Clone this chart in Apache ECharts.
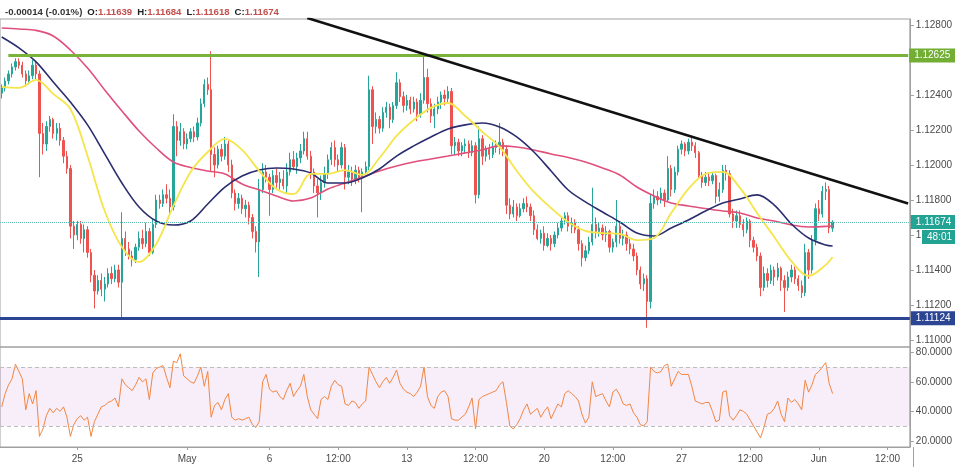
<!DOCTYPE html>
<html><head><meta charset="utf-8">
<script src="https://cdn.jsdelivr.net/npm/echarts@6/dist/echarts.min.js"></script>
<style>html,body{margin:0;padding:0;background:#fff}#c{width:955px;height:467px}</style>
</head><body><div id="c"></div><script>
// trading days shown (forex, weekdays only) and 3-hour bar slots
const days = ['Apr 22','Apr 23','Apr 24','Apr 25','Apr 26','Apr 29','Apr 30','May 1','May 2','May 3','May 6','May 7','May 8','May 9','May 10','May 13','May 14','May 15','May 16','May 17','May 20','May 21','May 22','May 23','May 24','May 27','May 28','May 29','May 30','May 31','Jun 3','Jun 4','Jun 5','Jun 6'];
const barHours = ['00:00','03:00','06:00','09:00','12:00','15:00','18:00','21:00'];
const firstBar = 'Apr 22 06:00';
const slotCount = 265;
const tickLabels = {'Apr 25 00:00':'25','May 1 00:00':'May','May 6 00:00':'6','May 8 12:00':'12:00','May 13 00:00':'13','May 15 12:00':'12:00','May 20 00:00':'20','May 22 12:00':'12:00','May 27 00:00':'27','May 29 12:00':'12:00','Jun 3 00:00':'Jun','Jun 5 12:00':'12:00'};
const priceTicks = [1.110,1.112,1.114,1.116,1.118,1.120,1.122,1.124,1.126,1.128];
const priceLabels = [1.110,1.112,1.114,1.116,1.118,1.120,1.122,1.124,1.128];
const rsiTicks = [20,40,60,80];

// OHLC per bar: [open, high, low, close]
const ohlc = [
[1.1241,1.1246,1.1238,1.1244],[1.1244,1.1250,1.1242,1.1248],[1.1248,1.1254,1.1246,1.1252],[1.1252,1.1258,1.1250,1.1256],[1.1256,1.1261,1.1254,1.1259],
[1.1259,1.1261,1.1255,1.1257],[1.1257,1.1259,1.1250,1.1252],[1.1252,1.1254,1.1245,1.1248],[1.1248,1.1254,1.1246,1.1251],[1.1251,1.1260,1.1249,1.1257],
[1.1257,1.1259,1.1249,1.1252],[1.1252,1.1254,1.1193,1.1218],[1.1218,1.1224,1.1206,1.1212],[1.1212,1.1225,1.1208,1.1222],[1.1222,1.1228,1.1219,1.1226],
[1.1226,1.1227,1.1215,1.1218],[1.1218,1.1224,1.1214,1.1221],[1.1221,1.1224,1.1211,1.1214],[1.1214,1.1216,1.1201,1.1205],[1.1205,1.1208,1.1195,1.1198],
[1.1198,1.1200,1.1158,1.1165],[1.1165,1.1168,1.1152,1.1160],[1.1160,1.1168,1.1157,1.1166],[1.1166,1.1168,1.1155,1.1158],[1.1158,1.1166,1.1150,1.1163],
[1.1163,1.1165,1.1147,1.1150],[1.1150,1.1152,1.1133,1.1137],[1.1137,1.1140,1.1118,1.1128],[1.1128,1.1137,1.1126,1.1134],[1.1134,1.1138,1.1125,1.1129],
[1.1129,1.1136,1.1122,1.1132],[1.1132,1.1141,1.1130,1.1138],[1.1138,1.1142,1.1132,1.1135],[1.1135,1.1143,1.1133,1.1140],[1.1140,1.1143,1.1130,1.1133],
[1.1133,1.1173,1.1113,1.1158],[1.1158,1.1162,1.1148,1.1152],[1.1152,1.1156,1.1146,1.1148],[1.1148,1.1151,1.1142,1.1146],[1.1146,1.1155,1.1144,1.1153],
[1.1153,1.1162,1.1151,1.1158],[1.1158,1.1163,1.1152,1.1155],[1.1155,1.1167,1.1153,1.1162],[1.1162,1.1164,1.1148,1.1150],[1.1150,1.1169,1.1149,1.1166],
[1.1166,1.1183,1.1164,1.1180],[1.1180,1.1183,1.1175,1.1178],[1.1178,1.1186,1.1176,1.1183],[1.1183,1.1189,1.1178,1.1181],[1.1181,1.1186,1.1171,1.1176],
[1.1176,1.1229,1.1174,1.1222],[1.1222,1.1225,1.1205,1.1214],[1.1214,1.1224,1.1211,1.1219],[1.1219,1.1221,1.1209,1.1212],[1.1212,1.1218,1.1209,1.1215],
[1.1215,1.1221,1.1213,1.1219],[1.1219,1.1222,1.1213,1.1216],[1.1216,1.1227,1.1214,1.1224],[1.1224,1.1238,1.1222,1.1235],[1.1235,1.1249,1.1233,1.1246],
[1.1246,1.1250,1.1240,1.1243],[1.1243,1.1265,1.1196,1.1206],[1.1206,1.1210,1.1193,1.1200],[1.1200,1.1211,1.1198,1.1209],[1.1209,1.1212,1.1202,1.1205],
[1.1205,1.1216,1.1203,1.1212],[1.1212,1.1214,1.1196,1.1200],[1.1200,1.1203,1.1181,1.1184],[1.1184,1.1186,1.1174,1.1178],[1.1178,1.1184,1.1175,1.1181],
[1.1181,1.1183,1.1172,1.1175],[1.1175,1.1180,1.1170,1.1177],[1.1177,1.1179,1.1166,1.1170],[1.1170,1.1172,1.1158,1.1162],[1.1162,1.1165,1.1150,1.1156],
[1.1156,1.1192,1.1136,1.1186],[1.1186,1.1201,1.1184,1.1196],[1.1196,1.1200,1.1190,1.1193],[1.1193,1.1195,1.1171,1.1186],[1.1186,1.1197,1.1184,1.1194],
[1.1194,1.1198,1.1187,1.1190],[1.1190,1.1196,1.1186,1.1192],[1.1192,1.1197,1.1186,1.1188],[1.1188,1.1201,1.1184,1.1196],[1.1196,1.1207,1.1194,1.1203],
[1.1203,1.1208,1.1197,1.1199],[1.1199,1.1207,1.1195,1.1204],[1.1204,1.1212,1.1201,1.1208],[1.1208,1.1219,1.1206,1.1215],[1.1215,1.1219,1.1203,1.1205],
[1.1205,1.1208,1.1192,1.1196],[1.1196,1.1198,1.1184,1.1188],[1.1188,1.1192,1.1170,1.1184],[1.1184,1.1194,1.1180,1.1190],[1.1190,1.1199,1.1187,1.1195],
[1.1195,1.1206,1.1192,1.1203],[1.1203,1.1213,1.1200,1.1210],[1.1210,1.1214,1.1199,1.1203],[1.1203,1.1206,1.1196,1.1200],[1.1200,1.1213,1.1198,1.1210],
[1.1210,1.1212,1.1186,1.1193],[1.1193,1.1200,1.1189,1.1196],[1.1196,1.1199,1.1188,1.1192],[1.1192,1.1200,1.1189,1.1197],[1.1197,1.1199,1.1190,1.1193],
[1.1193,1.1198,1.1173,1.1196],[1.1196,1.1202,1.1194,1.1199],[1.1199,1.1251,1.1197,1.1243],[1.1243,1.1245,1.1212,1.1222],[1.1222,1.1230,1.1218,1.1226],
[1.1226,1.1228,1.1218,1.1221],[1.1221,1.1233,1.1219,1.1230],[1.1230,1.1236,1.1227,1.1233],[1.1233,1.1235,1.1221,1.1226],[1.1226,1.1236,1.1224,1.1234],
[1.1234,1.1253,1.1232,1.1247],[1.1247,1.1249,1.1236,1.1239],[1.1239,1.1242,1.1230,1.1234],[1.1234,1.1240,1.1231,1.1237],[1.1237,1.1239,1.1229,1.1232],
[1.1232,1.1239,1.1230,1.1236],[1.1236,1.1238,1.1225,1.1229],[1.1229,1.1241,1.1227,1.1237],[1.1237,1.1262,1.1235,1.1250],[1.1250,1.1255,1.1230,1.1235],
[1.1235,1.1238,1.1224,1.1228],[1.1228,1.1235,1.1221,1.1232],[1.1232,1.1239,1.1229,1.1236],[1.1236,1.1242,1.1232,1.1240],[1.1240,1.1243,1.1234,1.1238],
[1.1238,1.1245,1.1235,1.1242],[1.1242,1.1244,1.1206,1.1211],[1.1211,1.1216,1.1206,1.1213],[1.1213,1.1215,1.1205,1.1208],[1.1208,1.1213,1.1205,1.1211],
[1.1211,1.1215,1.1207,1.1212],[1.1212,1.1214,1.1204,1.1207],[1.1207,1.1214,1.1205,1.1211],[1.1211,1.1213,1.1178,1.1183],[1.1183,1.1222,1.1181,1.1215],
[1.1215,1.1217,1.1200,1.1205],[1.1205,1.1211,1.1202,1.1209],[1.1209,1.1212,1.1203,1.1206],[1.1206,1.1213,1.1204,1.1210],[1.1210,1.1214,1.1207,1.1211],
[1.1211,1.1224,1.1206,1.1213],[1.1213,1.1215,1.1205,1.1209],[1.1209,1.1211,1.1172,1.1177],[1.1177,1.1181,1.1169,1.1172],[1.1172,1.1180,1.1170,1.1176],
[1.1176,1.1178,1.1168,1.1171],[1.1171,1.1178,1.1170,1.1175],[1.1175,1.1181,1.1173,1.1178],[1.1178,1.1182,1.1173,1.1176],[1.1176,1.1178,1.1168,1.1171],
[1.1171,1.1174,1.1160,1.1163],[1.1163,1.1166,1.1157,1.1158],[1.1158,1.1163,1.1155,1.1161],[1.1161,1.1165,1.1151,1.1154],[1.1154,1.1161,1.1153,1.1158],
[1.1158,1.1160,1.1151,1.1155],[1.1155,1.1162,1.1153,1.1160],[1.1160,1.1167,1.1158,1.1164],[1.1164,1.1170,1.1162,1.1168],[1.1168,1.1173,1.1166,1.1171],
[1.1171,1.1173,1.1162,1.1165],[1.1165,1.1170,1.1161,1.1167],[1.1167,1.1169,1.1161,1.1163],[1.1163,1.1165,1.1151,1.1155],[1.1155,1.1157,1.1142,1.1147],
[1.1147,1.1154,1.1145,1.1151],[1.1151,1.1159,1.1149,1.1156],[1.1156,1.1187,1.1154,1.1166],[1.1166,1.1170,1.1158,1.1162],[1.1162,1.1167,1.1159,1.1164],
[1.1164,1.1166,1.1157,1.1160],[1.1160,1.1165,1.1156,1.1162],[1.1162,1.1163,1.1150,1.1153],[1.1153,1.1158,1.1150,1.1156],[1.1156,1.1180,1.1153,1.1165],
[1.1165,1.1167,1.1155,1.1158],[1.1158,1.1163,1.1154,1.1160],[1.1160,1.1162,1.1151,1.1155],[1.1155,1.1158,1.1149,1.1152],[1.1152,1.1155,1.1145,1.1148],
[1.1148,1.1150,1.1137,1.1140],[1.1140,1.1142,1.1129,1.1132],[1.1132,1.1138,1.1128,1.1135],[1.1135,1.1137,1.1107,1.1122],[1.1122,1.1183,1.1118,1.1178],
[1.1178,1.1186,1.1175,1.1182],[1.1182,1.1185,1.1177,1.1180],[1.1180,1.1187,1.1178,1.1184],[1.1184,1.1186,1.1176,1.1180],[1.1180,1.1205,1.1179,1.1198],
[1.1198,1.1200,1.1182,1.1186],[1.1186,1.1199,1.1184,1.1196],[1.1196,1.1211,1.1194,1.1209],[1.1209,1.1214,1.1206,1.1212],[1.1212,1.1213,1.1205,1.1208],
[1.1208,1.1215,1.1206,1.1213],[1.1213,1.1216,1.1208,1.1211],[1.1211,1.1213,1.1204,1.1207],[1.1207,1.1208,1.1192,1.1194],[1.1194,1.1196,1.1187,1.1190],
[1.1190,1.1196,1.1188,1.1193],[1.1193,1.1195,1.1188,1.1191],[1.1191,1.1196,1.1189,1.1194],[1.1194,1.1195,1.1178,1.1182],[1.1182,1.1190,1.1179,1.1186],
[1.1186,1.1200,1.1184,1.1197],[1.1197,1.1200,1.1191,1.1195],[1.1195,1.1197,1.1170,1.1172],[1.1172,1.1175,1.1164,1.1168],[1.1168,1.1174,1.1164,1.1171],
[1.1171,1.1174,1.1164,1.1166],[1.1166,1.1169,1.1159,1.1163],[1.1163,1.1170,1.1161,1.1168],[1.1168,1.1169,1.1153,1.1157],[1.1157,1.1159,1.1150,1.1153],
[1.1153,1.1155,1.1145,1.1148],[1.1148,1.1150,1.1125,1.1130],[1.1130,1.1142,1.1128,1.1138],[1.1138,1.1141,1.1130,1.1134],[1.1134,1.1143,1.1132,1.1140],
[1.1140,1.1142,1.1131,1.1136],[1.1136,1.1144,1.1134,1.1141],[1.1141,1.1142,1.1128,1.1134],[1.1134,1.1137,1.1116,1.1130],[1.1130,1.1139,1.1128,1.1136],
[1.1136,1.1143,1.1133,1.1140],[1.1140,1.1142,1.1132,1.1135],[1.1135,1.1137,1.1128,1.1131],[1.1131,1.1134,1.1124,1.1127],[1.1127,1.1155,1.1125,1.1150],
[1.1150,1.1152,1.1135,1.1140],[1.1140,1.1160,1.1138,1.1157],[1.1157,1.1178,1.1154,1.1175],[1.1175,1.1180,1.1168,1.1172],[1.1172,1.1188,1.1170,1.1185],
[1.1185,1.1190,1.1180,1.1186],[1.1186,1.1188,1.1161,1.1164],[1.11639,1.11684,1.11618,1.11674]
];

// moving averages, sampled at these bar indices
const maIdx = [0,5,10,15,20,25,30,35,40,45,50,55,60,65,70,75,80,85,90,95,100,105,110,115,120,125,130,135,140,145,150,155,160,165,170,175,180,185,190,195,200,205,210,215,220,225,230,235,240,242];
const maSlow = [1.12783,1.12777,1.12769,1.12737,1.12657,1.12554,1.12429,1.12309,1.12194,1.12097,1.12017,1.11986,1.11966,1.11949,1.11891,1.11857,1.11823,1.11794,1.11811,1.11863,1.11897,1.11931,1.11966,1.11994,1.12017,1.12034,1.12051,1.12069,1.12086,1.12109,1.12103,1.12086,1.12063,1.12043,1.12017,1.11983,1.11943,1.11874,1.11823,1.11783,1.11766,1.11751,1.11737,1.11726,1.11697,1.11680,1.11657,1.11646,1.11649,1.11651];
const maMid = [1.12731,1.12669,1.12589,1.12474,1.12360,1.12229,1.12063,1.11897,1.11760,1.11680,1.11657,1.11680,1.11777,1.11874,1.11937,1.11971,1.11983,1.11977,1.11954,1.11897,1.11897,1.11926,1.11977,1.12051,1.12109,1.12160,1.12206,1.12229,1.12240,1.12217,1.12160,1.12074,1.11966,1.11857,1.11789,1.11731,1.11674,1.11611,1.11594,1.11640,1.11686,1.11737,1.11783,1.11806,1.11829,1.11771,1.11663,1.11583,1.11543,1.11537];
const maFast = [1.12446,1.12440,1.12486,1.12406,1.12320,1.12051,1.11737,1.11531,1.11446,1.11549,1.11766,1.11960,1.12074,1.12149,1.12086,1.11966,1.11863,1.11834,1.11949,1.11949,1.11971,1.11943,1.12040,1.12166,1.12257,1.12326,1.12354,1.12280,1.12189,1.12103,1.11966,1.11846,1.11754,1.11674,1.11623,1.11611,1.11606,1.11571,1.11583,1.11726,1.11863,1.11949,1.11960,1.11869,1.11726,1.11589,1.11451,1.11366,1.11429,1.11474];

// RSI per bar
const rsi = [
43,52,58,62,72,67,62,41,52,45, 54,23,28,37,42,39,42,40,43,36,
23,31,35,37,34,36,23,33,38,43, 44,46,47,49,43,62,58,56,54,58,
63,60,62,48,66,69,70,71,63,56, 74,73,79,64,62,60,59,64,70,57,
67,36,44,46,41,48,52,36,34,35, 34,35,36,31,29,33,60,65,55,53,
54,50,48,54,59,50,54,57,65,50, 41,38,35,48,50,48,57,61,58,57,
45,44,47,46,42,45,47,70,65,60, 56,60,63,59,63,68,59,55,53,52,
50,53,57,70,50,44,42,50,53,54, 50,35,34,34,36,38,43,49,28,48,
50,51,52,53,54,58,60,46,30,28, 31,35,41,45,38,40,42,36,40,43,
35,40,45,43,52,54,52,50,47,38, 32,36,60,50,51,52,47,43,53,55,
51,45,44,45,39,36,31,30,33,70, 67,66,67,71,72,57,62,67,65,65,
65,57,47,46,45,46,46,40,33,34, 53,54,37,34,37,41,40,38,34,30,
26,22,29,38,39,42,47,38,33,49, 46,48,45,41,61,53,58,65,67,70,
73,59,52
];

// drawn levels
const resistance = 1.12625;
const support = 1.11124;
const lastPrice = 1.11674;
const trendline = [[89, 1.1284], [264, 1.1178]];
const resistanceSpan = [2, 264];
const rsiBand = [30, 70];
const header = {change:'-0.00014 (-0.01%)', O:'1.11639', H:'1.11684', L:'1.11618', C:'1.11674'};
const countdown = '48:01';

// build categories
const categories = [];
days.forEach(d => barHours.forEach(h => categories.push(d + ' ' + h)));
const cats = categories.slice(categories.indexOf(firstBar)).slice(0, slotCount);

const chart = echarts.init(document.getElementById('c'));
const FONT = 'Liberation Sans, Arial, sans-serif';
const lbl = {color:'#4a4a4a', fontSize:10, fontFamily:FONT};
const boxLabel = (txt, bg) => ({show:true, position:'end', distance:1, formatter:txt, color:'#fff', backgroundColor:bg, padding:[2,5,2,5], fontSize:10, fontFamily:FONT});
const HF = 9.6;

chart.setOption({
  animation:false,
  backgroundColor:'#ffffff',
  title:{
    left:5, top:3, padding:0,
    text:`{a|${header.change}} {b|O:}{c|${header.O}} {b|H:}{c|${header.H}} {b|L:}{c|${header.L}} {b|C:}{c|${header.C}}`,
    textStyle:{rich:{
      a:{color:'#333', fontSize:HF, fontFamily:FONT},
      b:{color:'#222', fontSize:HF, fontWeight:'bold', fontFamily:FONT},
      c:{color:'#c2504e', fontSize:HF, fontFamily:FONT}
    }}
  },
  grid:[
    {left:-2, right:42, top:19, height:328, show:true, borderColor:'#a0a0a0', borderWidth:1, backgroundColor:'transparent'},
    {left:-2, right:42, top:347, height:100, show:true, borderColor:'#a0a0a0', borderWidth:1, backgroundColor:'transparent'}
  ],
  xAxis:[
    {type:'category', gridIndex:0, data:cats, boundaryGap:true, axisLine:{show:false}, axisTick:{show:false}, axisLabel:{show:false}, splitLine:{show:false}},
    {type:'category', gridIndex:1, data:cats, boundaryGap:true,
     axisLine:{show:true, lineStyle:{color:'#a0a0a0'}},
     axisTick:{show:true, alignWithLabel:true, length:3, interval:(i,v)=> v in tickLabels, lineStyle:{color:'#a0a0a0'}},
     axisLabel:Object.assign({interval:(i,v)=> v in tickLabels, formatter:v=>tickLabels[v], margin:7}, lbl),
     splitLine:{show:false}}
  ],
  yAxis:[
    {type:'value', gridIndex:0, position:'right', min:1.1096, max:1.12834, scale:true,
     axisLine:{show:true, lineStyle:{color:'#a0a0a0'}},
     axisTick:{show:true, length:4, customValues:priceTicks, lineStyle:{color:'#a0a0a0'}},
     axisLabel:Object.assign({customValues:priceLabels, formatter:v=>v.toFixed(5), margin:6}, lbl),
     splitLine:{show:false}},
    {type:'value', gridIndex:1, position:'right', min:15.8, max:83.6,
     axisLine:{show:true, lineStyle:{color:'#a0a0a0'}},
     axisTick:{show:true, length:4, customValues:rsiTicks, lineStyle:{color:'#a0a0a0'}},
     axisLabel:Object.assign({customValues:rsiTicks, formatter:v=>v.toFixed(4), margin:6}, lbl),
     splitLine:{show:false}}
  ],
  series:[
    {type:'candlestick', xAxisIndex:0, yAxisIndex:0, barWidth:1.8,
     data:ohlc.map(d=>[d[0], d[3], d[2], d[1]]),
     itemStyle:{color:'#26a69a', color0:'#ef5350', borderColor:'#26a69a', borderColor0:'#ef5350', borderWidth:1}
    },
    {type:'line', xAxisIndex:0, yAxisIndex:0, data:maIdx.map((k,j)=>[k, maSlow[j]]), smooth:0.35, symbol:'none', lineStyle:{color:'#e0507c', width:1.6}, z:3},
    {type:'line', xAxisIndex:0, yAxisIndex:0, data:maIdx.map((k,j)=>[k, maMid[j]]), smooth:0.35, symbol:'none', lineStyle:{color:'#2a2d6e', width:1.6}, z:3},
    {type:'line', xAxisIndex:0, yAxisIndex:0, data:maIdx.map((k,j)=>[k, maFast[j]]), smooth:0.35, symbol:'none', lineStyle:{color:'#f5e54a', width:1.8}, z:3},
    {type:'line', xAxisIndex:0, yAxisIndex:0, data:resistanceSpan.map(k=>[k, resistance]), symbol:'none', lineStyle:{color:'#79b33a', width:3}, z:4,
     markLine:{silent:true, symbol:'none', animation:false, precision:5,
       data:[
         [{coord:[resistanceSpan[0], resistance], lineStyle:{color:'#79b33a', width:3, type:'solid'}, label:boxLabel(resistance.toFixed(5), '#72ad34')},
          {coord:[resistanceSpan[1], resistance]}],
         {yAxis:lastPrice, lineStyle:{color:'#5fbfb4', width:1, type:'dotted'}, label:boxLabel(lastPrice.toFixed(5), '#22a393')},
         {yAxis:support, lineStyle:{color:'#2b4593', width:3, type:'solid'}, label:boxLabel(support.toFixed(5), '#2b4593')}
       ]}},
    {type:'line', xAxisIndex:0, yAxisIndex:0, data:trendline, symbol:'none', lineStyle:{color:'#111', width:2.5}, z:5, clip:true},
    {type:'line', xAxisIndex:1, yAxisIndex:1, data:rsi, symbol:'none', lineStyle:{color:'#f28643', width:1}, z:3,
     markArea:{silent:true, itemStyle:{color:'rgba(156,39,176,0.08)'}, data:[[{yAxis:rsiBand[0]},{yAxis:rsiBand[1]}]]},
     markLine:{silent:true, symbol:'none', animation:false, label:{show:false},
       lineStyle:{color:'#bdbdbd', width:1, type:[4,3]}, data:[{yAxis:rsiBand[1]},{yAxis:rsiBand[0]}]}}
  ]
});

const py = chart.convertToPixel({yAxisIndex:0}, lastPrice);
chart.setOption({graphic:[
  {type:'text', left:922, top:py + 8, z:100, style:{text:countdown, fill:'#fff', backgroundColor:'#22a393', padding:[2,5,2,5], fontSize:10, fontFamily:FONT}},
  {type:'line', z:100, shape:{x1:913.5, y1:447, x2:913.5, y2:467}, style:{stroke:'#a0a0a0', lineWidth:1}}
]});
</script></body></html>
